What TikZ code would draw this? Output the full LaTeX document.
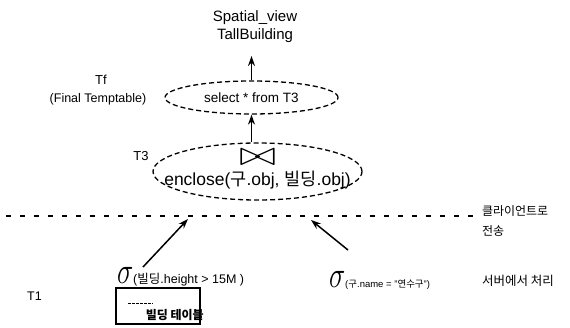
\documentclass[tikz,border=0pt]{standalone}
\usepackage{fontspec}
\setmainfont{Liberation Sans}
\newfontfamily\hangul{Noto Sans CJK KR}
\usetikzlibrary{shapes.geometric,arrows.meta}
\newlength{\du}
\setlength{\du}{15\unitlength}
\definecolor{dialinecolor}{rgb}{0.000000, 0.000000, 0.000000}
\definecolor{diafillcolor}{rgb}{1.000000, 1.000000, 1.000000}
\newcommand{\diasigma}{\scalebox{1.1}[1.5]{\fontsize{28}{28}\selectfont$\sigma$}}
\tikzset{
  dialabel/.style={inner sep=0pt, outer sep=0pt, color=dialinecolor},
  diaflow/.style={draw=dialinecolor, line width=1.5pt, -{Stealth[length=10pt,width=7pt]}},
  diaoval/.style={ellipse, draw=dialinecolor, line width=1.3pt, dash pattern=on 5pt off 3pt, inner sep=0pt, align=center},
  diaborder/.style={draw=dialinecolor, line width=2.6pt, dash pattern=on 5pt off 9pt},
  diatable/.style={rectangle, draw=dialinecolor, line width=1.5pt, inner sep=0pt},
}
\begin{document}
\begin{tikzpicture}
\pgftransformxscale{1.000000}
\pgftransformyscale{-1.000000}
\path[use as bounding box, fill=diafillcolor] (0\du,0\du) rectangle (38.000000\du,21.800000\du);
% result view
\node[dialabel, align=center, font=\fontsize{15}{18}\selectfont] (view) at (17.000000\du,1.800000\du){Spatial\_view\\TallBuilding};
% final temp table
\node[diaoval, minimum width=11.533333\du, minimum height=2.200000\du, font=\fontsize{13.5}{15}\selectfont] (sel) at (16.766667\du,6.500000\du){select * from T3};
\node[dialabel, font=\fontsize{13}{14}\selectfont] (tf) at (6.733333\du,5.333333\du){Tf};
\node[dialabel, font=\fontsize{12.5}{14}\selectfont] (tfnote) at (6.533333\du,6.633333\du){(Final Temptable)};
\draw[diaflow, shorten >=13pt] (sel.north) -- (view.south -| sel.north);
% join
\node[diaoval, minimum width=13.933333\du, minimum height=3.800000\du] (encl) at (17.166667\du,11.433333\du){};
\node[dialabel, font=\fontsize{17.5}{18}\selectfont] (joinop) at ([yshift=-14pt]encl.center){\scalebox{2.6}[2]{$\bowtie$}};
\node[dialabel, font=\fontsize{17.5}{18}\selectfont] (enclfn) at ([yshift=9pt]encl.center){enclose({\hangul 구}.obj, {\hangul 빌딩}.obj)};
\node[dialabel, font=\fontsize{13}{14}\selectfont] (tthree) at (9.400000\du,10.400000\du){T3};
\draw[diaflow] (sel.south |- encl.north) -- (sel.south);
% client / server border
\coordinate (borderl) at (0.400000\du,14.400000\du);
\coordinate (borderr) at (31.800000\du,14.400000\du);
\draw[diaborder] (borderl) -- (borderr);
\node[dialabel, anchor=west, align=left, font=\fontsize{12}{20.5}\hangul] (client) at (32.133333\du,14.733333\du){클라이언트로\\전송};
% selections on the server
\node[dialabel, anchor=base west, font=\fontsize{12.5}{14}\selectfont] (selbld) at (7.800000\du,18.866667\du){\diasigma({\hangul 빌딩}.height > 15M )};
\node[dialabel, anchor=base west, font=\fontsize{9.5}{12}\selectfont] (selgu) at (21.933333\du,19.133333\du){\diasigma({\hangul 구}.name = "{\hangul 연수구}")};
\node[dialabel, anchor=base west, font=\fontsize{12.5}{14}\hangul] (server) at (32.133333\du,19.000000\du){서버에서 처리};
\node[dialabel, font=\fontsize{12.5}{14}\selectfont] (tone) at (2.300000\du,19.733333\du){T1};
\coordinate (bldfoot) at (9.533333\du,17.800000\du);
\coordinate (bldtip) at (12.533333\du,14.600000\du);
\coordinate (gufoot) at (23.200000\du,16.666667\du);
\coordinate (gutip) at (20.733333\du,14.666667\du);
\draw[diaflow] (bldfoot) -- (bldtip);
\draw[diaflow] (gufoot) -- (gutip);
% building table
\node[diatable, minimum width=5.600000\du, minimum height=2.400000\du] (bldtable) at (10.533333\du,20.400000\du){};
\node[dialabel, anchor=south east, font=\fontsize{12}{13}\hangul\bfseries] (bldname) at ([xshift=3pt,yshift=-4pt]bldtable.south east){빌딩 테이블};
\draw[dialinecolor, line width=0.5pt, dash pattern=on 3pt off 1pt] (8.533333\du,20.200000\du) -- (10.200000\du,20.200000\du);
\end{tikzpicture}
\end{document}
